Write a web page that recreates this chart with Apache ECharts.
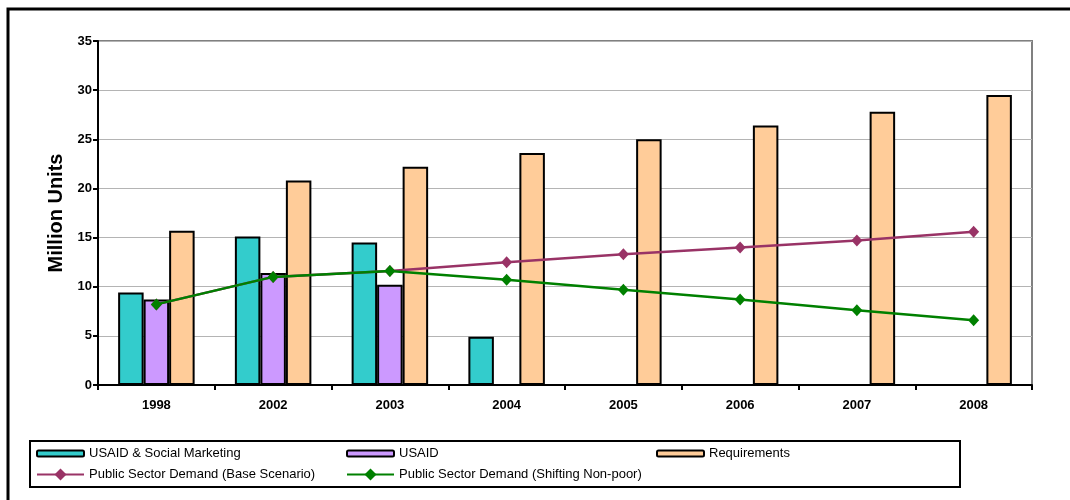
<!DOCTYPE html>
<html>
<head>
<meta charset="utf-8">
<script src="https://cdn.jsdelivr.net/npm/echarts@6/dist/echarts.min.js"></script>
<style>
  html, body { margin: 0; padding: 0; background: #fff; }
  #chart { width: 1070px; height: 500px; }
</style>
</head>
<body>
<div id="chart"></div>
<script>
// Condom supply vs. requirements, million units
const years = ['1998', '2002', '2003', '2004', '2005', '2006', '2007', '2008'];
const usaidSocialMarketing = [9.4, 15.1, 14.5, 4.9, null, null, null, null];
const usaid = [8.7, 11.4, 10.2, null, null, null, null, null];
const requirements = [15.7, 20.8, 22.2, 23.6, 25.0, 26.4, 27.8, 29.5];
const demandBase = [8.2, 11.0, 11.6, 12.5, 13.3, 14.0, 14.7, 15.6];
const demandShifting = [8.2, 11.0, 11.6, 10.7, 9.7, 8.7, 7.6, 6.6];
const yTicks = [0, 5, 10, 15, 20, 25, 30, 35];

const names = [
  'USAID & Social Marketing',
  'USAID',
  'Requirements',
  'Public Sector Demand (Base Scenario)',
  'Public Sector Demand (Shifting Non-poor)'
];

const FONT = 'Liberation Sans, Arial, sans-serif';

const barStyle = (color) => ({ color: color, borderColor: '#000', borderWidth: 2 });

function legendAt(name, left, top, isLine) {
  return {
    data: [name],
    left: left,
    top: top,
    orient: 'horizontal',
    selectedMode: false,
    itemWidth: 47,
    itemHeight: isLine ? 15 : 6,
    padding: 0,
    textStyle: { fontFamily: FONT, fontSize: 13, color: '#000', padding: [0, 0, 0, 0] }
  };
}

const chart = echarts.init(document.getElementById('chart'), null, { renderer: 'canvas' });

chart.setOption({
  animation: false,
  backgroundColor: '#fff',
  textStyle: { fontFamily: FONT },
  graphic: [
    {
      type: 'rect',
      shape: { x: 8, y: 9, width: 1100, height: 600 },
      style: { fill: 'none', stroke: '#000', lineWidth: 3 },
      z: -1
    },
    {
      type: 'rect',
      shape: { x: 30, y: 441, width: 930, height: 46 },
      style: { fill: '#fff', stroke: '#000', lineWidth: 2 },
      z: -1
    }
  ],
  legend: [
    legendAt(names[0], 36, 447, false),
    legendAt(names[1], 346, 447, false),
    legendAt(names[2], 656, 447, false),
    legendAt(names[3], 36, 468, true),
    legendAt(names[4], 346, 468, true)
  ],
  grid: {
    left: 98, right: 38, top: 41, bottom: 115,
    show: true, borderColor: '#808080', borderWidth: 2, backgroundColor: 'transparent'
  },
  xAxis: {
    type: 'category',
    data: years,
    axisLine: { lineStyle: { color: '#000', width: 2 } },
    axisTick: { show: true, length: 5, lineStyle: { color: '#000', width: 2 } },
    axisLabel: { fontFamily: FONT, fontSize: 13, fontWeight: 'bold', color: '#000', margin: 14 }
  },
  yAxis: {
    type: 'value',
    min: yTicks[0],
    max: yTicks[yTicks.length - 1],
    interval: 5,
    name: 'Million Units',
    nameLocation: 'middle',
    nameRotate: 90,
    nameGap: 29,
    nameTextStyle: { fontFamily: FONT, fontSize: 20, fontWeight: 'bold', color: '#000' },
    axisLine: { show: true, lineStyle: { color: '#000', width: 2 } },
    axisTick: { show: true, length: 5, lineStyle: { color: '#000', width: 2 } },
    axisLabel: { fontFamily: FONT, fontSize: 13, fontWeight: 'bold', color: '#000', margin: 6 },
    splitLine: { lineStyle: { color: '#b4b4b4', width: 1 } }
  },
  series: [
    {
      name: names[0], type: 'bar', data: usaidSocialMarketing,
      barWidth: 25.5, barGap: '0%', itemStyle: barStyle('#33CCCC')
    },
    {
      name: names[1], type: 'bar', data: usaid,
      barWidth: 25.5, barGap: '0%', itemStyle: barStyle('#CC99FF')
    },
    {
      name: names[2], type: 'bar', data: requirements,
      barWidth: 25.5, barGap: '0%', itemStyle: barStyle('#FFCC99')
    },
    {
      name: names[3], type: 'line', data: demandBase,
      symbol: 'diamond', symbolSize: [11, 12],
      lineStyle: { color: '#993366', width: 2.5 },
      itemStyle: { color: '#993366' }, z: 3
    },
    {
      name: names[4], type: 'line', data: demandShifting,
      symbol: 'diamond', symbolSize: [11, 12],
      lineStyle: { color: '#008000', width: 2.5 },
      itemStyle: { color: '#008000' }, z: 4
    }
  ]
});
</script>
</body>
</html>
